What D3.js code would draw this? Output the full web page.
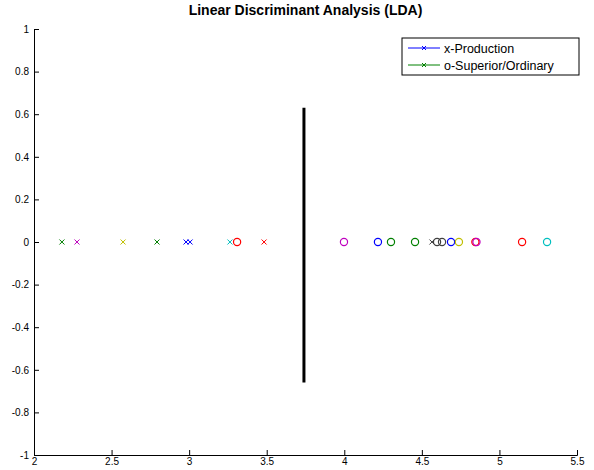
<!DOCTYPE html>
<html>
  <head>
    <meta charset="utf-8">
    <title>Linear Discriminant Analysis (LDA)</title>
    <script src="https://d3js.org/d3.v7.min.js"></script>
    <style>
      body { margin: 0; background: #fff; }
      text { font-family: "Liberation Sans", Arial, sans-serif; }
    </style>
  </head>
  <body>
    <div id="chart"></div>
    <script>
      // projected values (LDA axis) for each class, with marker colours
      const productionX = [2.18, 2.277, 2.574, 2.793, 2.98, 3.006, 3.263, 3.483, 4.565];
      const productionColor = ["g", "m", "y", "g", "b", "b", "c", "r", "k"];
      const superiorX = [3.309, 3.998, 4.217, 4.301, 4.456, 4.598, 4.63, 4.688, 4.739, 4.845, 4.852, 5.146, 5.307];
      const superiorColor = ["r", "m", "b", "g", "g", "k", "k", "b", "y", "r", "m", "r", "c"];
      const boundaryX = 3.74;
      const boundaryY = [-0.66, 0.63];
      const xTicks = [2, 2.5, 3, 3.5, 4, 4.5, 5, 5.5];
      const yTicks = [-1, -0.8, -0.6, -0.4, -0.2, 0, 0.2, 0.4, 0.6, 0.8, 1];
      const legendLabels = ["x-Production", "o-Superior/Ordinary"];

      const colors = {
        b: "#0000ff", g: "#008000", r: "#ff0000", c: "#00bfbf",
        m: "#bf00bf", y: "#bfbf00", k: "#404040"
      };

      const margin = { top: 29, right: 17, bottom: 15, left: 34 },
        width = 594 - margin.left - margin.right,
        height = 470 - margin.top - margin.bottom;

      const svg = d3.select("#chart").append("svg")
        .attr("width", 594).attr("height", 470)
        .append("g")
        .attr("transform", `translate(${margin.left},${margin.top})`);

      const x = d3.scaleLinear().domain([2, 5.5]).range([0, width]);
      const y = d3.scaleLinear().domain([-1, 1]).range([height, 0]);

      // Axes (ticks pointing inward, MATLAB style)
      const xAxis = svg.append("g")
        .attr("transform", `translate(0,${height})`)
        .call(d3.axisBottom(x).tickValues(xTicks).tickSize(-5).tickPadding(3).tickFormat((d) => String(d)));
      const yAxis = svg.append("g")
        .call(d3.axisLeft(y).tickValues(yTicks).tickSize(-5).tickPadding(5).tickFormat((d) => String(d)));
      [xAxis, yAxis].forEach((a) => {
        a.select(".domain").attr("stroke", "#000");
        a.selectAll(".tick line").attr("stroke", "#000");
        a.selectAll(".tick text").attr("font-size", 10).attr("fill", "#000")
          .attr("font-family", "Liberation Sans, Arial, sans-serif");
      });

      // Decision boundary
      svg.append("line")
        .attr("x1", x(boundaryX)).attr("x2", x(boundaryX))
        .attr("y1", y(boundaryY[0])).attr("y2", y(boundaryY[1]))
        .attr("stroke", "#000").attr("stroke-width", 3);

      // Production: x markers
      const s = 2.5;
      svg.append("g").selectAll("path")
        .data(productionX)
        .join("path")
        .attr("d", (d) => `M${x(d) - s},${y(0) - s}L${x(d) + s},${y(0) + s}M${x(d) - s},${y(0) + s}L${x(d) + s},${y(0) - s}`)
        .attr("stroke", (d, i) => colors[productionColor[i]])
        .attr("stroke-width", 1)
        .attr("fill", "none");

      // Superior/Ordinary: circles
      svg.append("g").selectAll("circle")
        .data(superiorX)
        .join("circle")
        .attr("cx", (d) => x(d))
        .attr("cy", y(0))
        .attr("r", 3.6)
        .attr("fill", "none")
        .attr("stroke", (d, i) => colors[superiorColor[i]])
        .attr("stroke-width", 1.2);

      // Title
      svg.append("text")
        .attr("x", width / 2)
        .attr("y", -14)
        .attr("text-anchor", "middle")
        .attr("font-size", 14)
        .attr("font-weight", "bold")
        .text("Linear Discriminant Analysis (LDA)");

      // Legend
      const lg = svg.append("g").attr("transform", `translate(${402 - margin.left},${38 - margin.top})`);
      lg.append("rect").attr("width", 177).attr("height", 37)
        .attr("fill", "#fff").attr("stroke", "#000").attr("stroke-width", 1);
      const legendColors = [colors.b, colors.g];
      legendLabels.forEach((lab, i) => {
        const ly = 10 + i * 17;
        lg.append("line").attr("x1", 6).attr("x2", 38).attr("y1", ly).attr("y2", ly)
          .attr("stroke", legendColors[i]).attr("stroke-width", 1);
        lg.append("path")
          .attr("d", `M${22 - 2},${ly - 2}L${22 + 2},${ly + 2}M${22 - 2},${ly + 2}L${22 + 2},${ly - 2}`)
          .attr("stroke", legendColors[i]).attr("stroke-width", 1);
        lg.append("text").attr("x", 42).attr("y", ly + 4.5)
          .attr("font-size", 12.5).text(lab);
      });
    </script>
  </body>
</html>
